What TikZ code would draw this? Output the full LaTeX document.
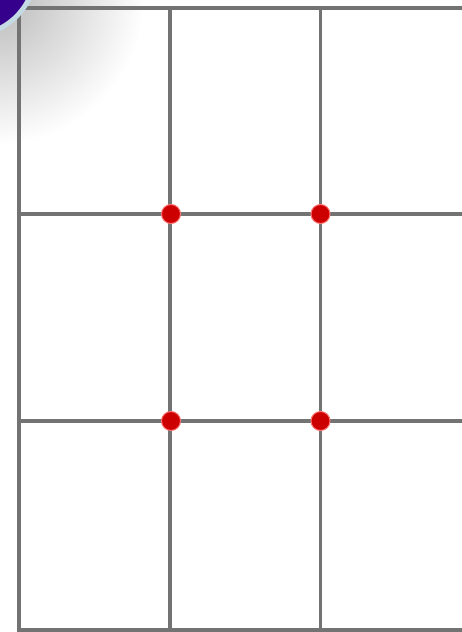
\documentclass[tikz,border=0pt]{standalone}
\begin{document}
\begin{tikzpicture}[x=1pt,y=-1pt,
  gridline/.style={draw=black!55, line width=3.6pt},
  hotspot/.style={circle, fill=red!80!black, draw=red!55, line width=1pt, minimum width=18pt, minimum height=19pt, inner sep=0pt}]
\useasboundingbox (0,0) rectangle (462,632);
\fill[white] (0,0) rectangle (462,632);
% grey shadow in the top-left corner
\begin{scope}
\clip (0,0) rectangle (462,632);
\shade[inner color=black!28, outer color=white] (-5,-5) circle (150);
\end{scope}
% grid
\coordinate (TL) at (19,8);
\coordinate (TR) at (462,8);
\coordinate (BL) at (19,630);
\coordinate (BR) at (462,630);
\coordinate (V1t) at (170,8);
\coordinate (V1b) at (170,632);
\coordinate (V2t) at (320.5,8);
\coordinate (V2b) at (320.5,632);
\coordinate (H1l) at (17,214);
\coordinate (H1r) at (462,214);
\coordinate (H2l) at (17,421);
\coordinate (H2r) at (462,421);
\coordinate (Lt) at (19,0);
\coordinate (Lb) at (19,632);
\draw[gridline] (Lt) -- (Lb);
\draw[gridline] (TL) -- (TR);
\draw[gridline] (BL) -- (BR);
\draw[gridline] (V1t) -- (V1b);
\draw[gridline] (V2t) -- (V2b);
\draw[gridline] (H1l) -- (H1r);
\draw[gridline] (H2l) -- (H2r);
% intersection points
\node[hotspot] (p1) at (171,214) {};
\node[hotspot] (p2) at (320.5,214) {};
\node[hotspot] (p3) at (171,421) {};
\node[hotspot] (p4) at (320.5,421) {};
% corner disc
\fill[fill={rgb,255:red,196;green,218;blue,228}] (-30,-30) circle (68);
\fill[fill={rgb,255:red,52;green,0;blue,140}] (-30,-30) circle (63);
\end{tikzpicture}
\end{document}
